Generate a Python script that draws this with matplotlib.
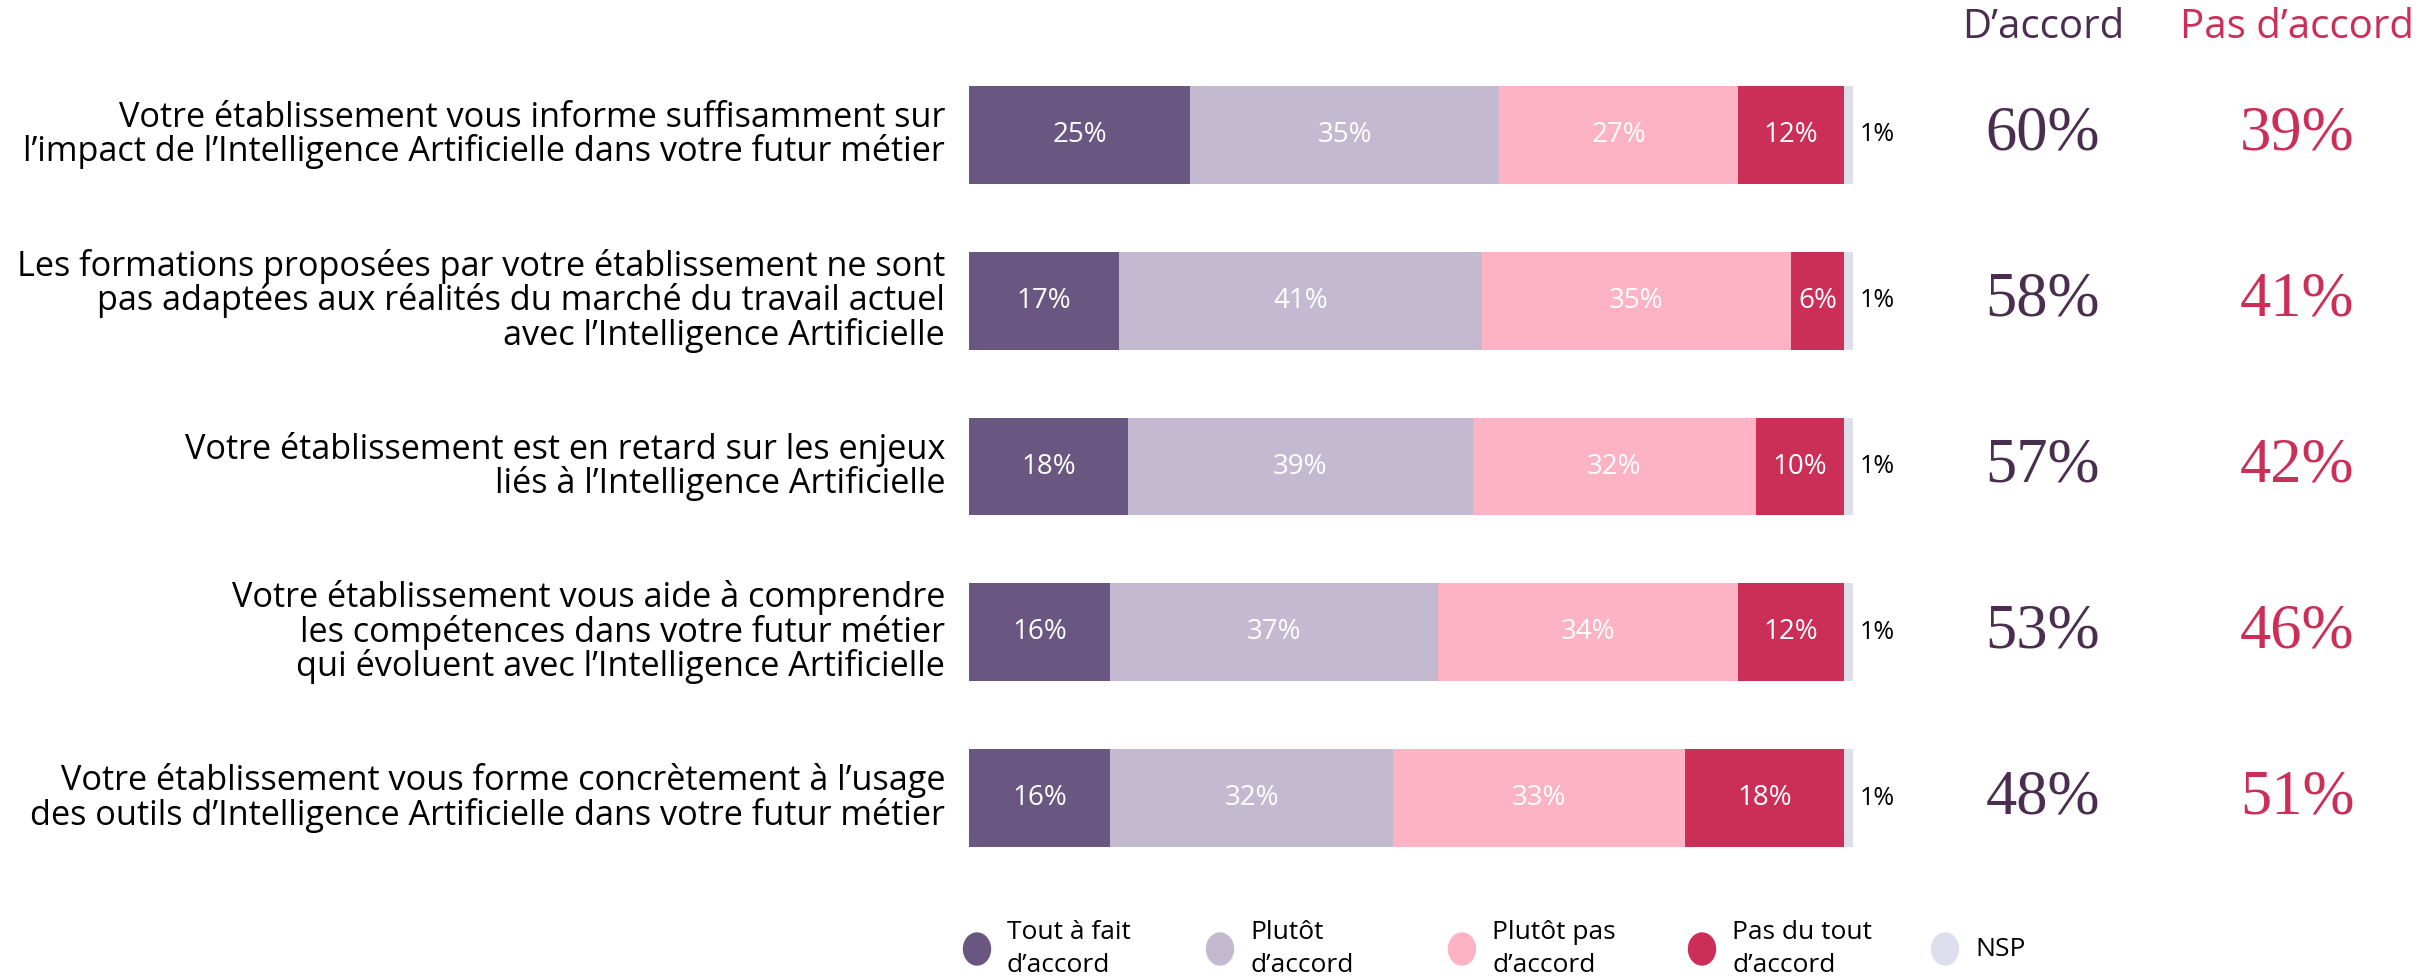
import matplotlib
matplotlib.use("Agg")
import matplotlib.pyplot as plt
from matplotlib.patches import Ellipse
import numpy as np

labels = [
    "Votre établissement vous informe suffisamment sur\nl’impact de l’Intelligence Artificielle dans votre futur métier",
    "Les formations proposées par votre établissement ne sont\npas adaptées aux réalités du marché du travail actuel\navec l’Intelligence Artificielle",
    "Votre établissement est en retard sur les enjeux\nliés à l’Intelligence Artificielle",
    "Votre établissement vous aide à comprendre\nles compétences dans votre futur métier\nqui évoluent avec l’Intelligence Artificielle",
    "Votre établissement vous forme concrètement à l’usage\ndes outils d’Intelligence Artificielle dans votre futur métier",
]
tout_a_fait = [25, 17, 18, 16, 16]
plutot = [35, 41, 39, 37, 32]
plutot_pas = [27, 35, 32, 34, 33]
pas_du_tout = [12, 6, 10, 12, 18]
nsp = [1, 1, 1, 1, 1]
total_accord = [60, 58, 57, 53, 48]
total_pas = [39, 41, 42, 46, 51]
series_names = ["Tout à fait\nd’accord", "Plutôt\nd’accord", "Plutôt pas\nd’accord", "Pas du tout\nd’accord", "NSP"]
colors = ["#695782", "#C3B9D0", "#FEB3C4", "#CB2F58", "#DDE0EC"]

FONT = ["Open Sans", "DejaVu Sans"]
SERIF = ["Liberation Serif", "DejaVu Serif"]
plt.rcParams['font.family'] = FONT

W, H = 2430, 976
fig = plt.figure(figsize=(W / 100, H / 100), dpi=100)
x0, x1 = 969, 1853
ytop, ybot = 52, 881
ax = fig.add_axes([x0 / W, 1 - ybot / H, (x1 - x0) / W, (ybot - ytop) / H])
ax.set_xlim(0, 100)
ax.set_ylim(4.5, -0.5)
ax.axis("off")

data = [tout_a_fait, plutot, plutot_pas, pas_du_tout, nsp]
y = np.arange(len(labels))
bh = 0.59
left = np.zeros(len(labels))
for k, vals in enumerate(data):
    vals = np.array(vals, dtype=float)
    ax.barh(y, vals, left=left, height=bh, color=colors[k], edgecolor="none")
    for i, v in enumerate(vals):
        if k < 4:
            ax.text(left[i] + v / 2, y[i], f"{int(v)}%", ha="center", va="center",
                    color="white", fontsize=20)
        else:
            ax.text(left[i] + v + 0.8, y[i], f"{int(v)}%", ha="left", va="center",
                    color="black", fontsize=18)
    left += vals

for i, lab in enumerate(labels):
    ax.text(-2.7, y[i], lab, ha="right", va="center", fontsize=24.7, color="black",
            linespacing=0.98, clip_on=False)

xa = (2043 - x0) / (x1 - x0) * 100
xp = (2297 - x0) / (x1 - x0) * 100
ax.text(xa, -0.5 + (28 - ytop) / 166, "D’accord", ha="center", va="center",
        fontsize=29, color="#4B2D50", clip_on=False)
ax.text(xp, -0.5 + (28 - ytop) / 166, "Pas d’accord", ha="center", va="center",
        fontsize=29, color="#CB2F58", clip_on=False)
for i in range(len(labels)):
    ax.text(xa, y[i], f"{total_accord[i]}%", ha="center", va="center",
            fontsize=45, color="#4B2D50", family=SERIF, clip_on=False)
    ax.text(xp, y[i], f"{total_pas[i]}%", ha="center", va="center",
            fontsize=45, color="#CB2F58", family=SERIF, clip_on=False)

leg_x = [977, 1220, 1462, 1702, 1945]
leg_y = 949
for k, name in enumerate(series_names):
    e = Ellipse((leg_x[k] / W, 1 - leg_y / H), 27 / W, 32 / H,
                transform=fig.transFigure, color=colors[k])
    fig.patches.append(e)
    fig.text((leg_x[k] + 30) / W, 1 - leg_y / H, name, ha="left", va="center",
             fontsize=19, color="black", linespacing=1.45)

fig.savefig("out.png", dpi=100, facecolor="white")
